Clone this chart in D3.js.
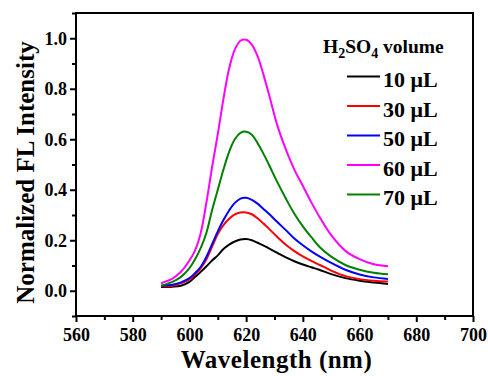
<!DOCTYPE html>
<html>
<head>
<meta charset="utf-8">
<script src="https://cdn.jsdelivr.net/npm/d3@7"></script>
<style>
  body { margin: 0; background: #fff; }
  svg text { font-family: "Liberation Serif", "Times New Roman", serif !important; font-weight: bold; }
</style>
</head>
<body>
<div id="chart"></div>
<script>
// wavelength grid (nm)
const wl = [590, 594, 597, 600, 602, 604, 606, 608, 610, 612, 614, 616, 618, 620, 622, 624, 626, 628, 631, 634, 637, 640, 643, 646, 650, 655, 660, 665, 670];

// normalized intensities
const v10 = [0.015, 0.016, 0.020, 0.035, 0.055, 0.075, 0.097, 0.120, 0.140, 0.165, 0.183, 0.195, 0.203, 0.205, 0.200, 0.190, 0.180, 0.168, 0.150, 0.132, 0.117, 0.104, 0.093, 0.082, 0.066, 0.050, 0.040, 0.033, 0.027];
const v30 = [0.018, 0.020, 0.030, 0.045, 0.065, 0.090, 0.125, 0.175, 0.225, 0.260, 0.285, 0.302, 0.310, 0.310, 0.303, 0.287, 0.267, 0.246, 0.213, 0.182, 0.157, 0.136, 0.118, 0.102, 0.080, 0.058, 0.046, 0.040, 0.037];
const v50 = [0.020, 0.024, 0.033, 0.050, 0.070, 0.095, 0.135, 0.185, 0.235, 0.280, 0.318, 0.348, 0.365, 0.368, 0.360, 0.345, 0.325, 0.305, 0.272, 0.240, 0.207, 0.180, 0.156, 0.135, 0.110, 0.083, 0.064, 0.053, 0.047];
const v60 = [0.030, 0.048, 0.075, 0.120, 0.160, 0.230, 0.350, 0.490, 0.620, 0.760, 0.880, 0.955, 0.990, 0.994, 0.975, 0.930, 0.860, 0.780, 0.655, 0.560, 0.480, 0.415, 0.350, 0.290, 0.220, 0.158, 0.125, 0.105, 0.097];
const v70 = [0.020, 0.035, 0.055, 0.090, 0.125, 0.170, 0.230, 0.320, 0.400, 0.480, 0.550, 0.600, 0.625, 0.630, 0.618, 0.585, 0.545, 0.500, 0.430, 0.365, 0.305, 0.255, 0.212, 0.172, 0.135, 0.102, 0.083, 0.071, 0.065];

const seriesNames = ['10 μL', '30 μL', '50 μL', '60 μL', '70 μL'];
const seriesColors = ['#000000', '#ff0000', '#0000ff', '#ff00ff', '#008000'];
const seriesValues = [v10, v30, v50, v60, v70];

const xTicks = [560, 580, 600, 620, 640, 660, 680, 700];
const xMinor = [570, 590, 610, 630, 650, 670, 690];
const yTicks = [0.0, 0.2, 0.4, 0.6, 0.8, 1.0];
const yMinor = [-0.1, 0.1, 0.3, 0.5, 0.7, 0.9, 1.1];

const width = 488, height = 376;
const margin = {top: 13, right: 15, bottom: 60, left: 76};
const w = width - margin.left - margin.right;
const h = height - margin.top - margin.bottom;

const svg = d3.select('#chart').append('svg')
    .attr('width', width)
    .attr('height', height);

const g = svg.append('g')
    .attr('transform', `translate(${margin.left},${margin.top})`);

const x = d3.scaleLinear().domain([560, 700]).range([0, w]);
const y = d3.scaleLinear().domain([-0.1, 1.1]).range([h, 0]);

// minor ticks
g.append('g')
    .attr('transform', `translate(0,${h})`)
    .call(d3.axisBottom(x).tickValues(xMinor).tickSize(4).tickFormat('').tickSizeOuter(0))
    .call(a => a.select('.domain').remove())
    .selectAll('line').attr('stroke-width', 2);
g.append('g')
    .call(d3.axisLeft(y).tickValues(yMinor).tickSize(4).tickFormat('').tickSizeOuter(0))
    .call(a => a.select('.domain').remove())
    .selectAll('line').attr('stroke-width', 2);

// major ticks
const xAxisG = g.append('g')
    .attr('transform', `translate(0,${h})`)
    .call(d3.axisBottom(x).tickValues(xTicks).tickSize(6).tickPadding(6).tickSizeOuter(0))
    .attr('font-family', null).attr('font-size', null);
xAxisG.select('.domain').remove();
xAxisG.selectAll('line').attr('stroke-width', 2);
xAxisG.selectAll('text').attr('fill', '#000')
    .style('font-size', '18px');

const yAxisG = g.append('g')
    .call(d3.axisLeft(y).tickValues(yTicks).tickSize(6).tickPadding(3).tickFormat(d3.format('.1f')).tickSizeOuter(0))
    .attr('font-family', null).attr('font-size', null);
yAxisG.select('.domain').remove();
yAxisG.selectAll('line').attr('stroke-width', 2);
yAxisG.selectAll('text').attr('fill', '#000')
    .style('font-size', '18px');

// frame
g.append('rect')
    .attr('width', w).attr('height', h)
    .attr('fill', 'none').attr('stroke', '#000').attr('stroke-width', 2);

// curves
const line = d3.line()
    .x((d, i) => x(wl[i]))
    .y(d => y(d))
    .curve(d3.curveCatmullRom);

seriesValues.forEach((vals, i) => {
    g.append('path')
        .datum(vals)
        .attr('fill', 'none')
        .attr('stroke', seriesColors[i])
        .attr('stroke-width', 2)
        .attr('d', line);
});

// legend
const leg = svg.append('g').attr('transform', 'translate(323,53)');
const title = leg.append('text').attr('font-size', 19.5).attr('fill', '#000');
title.append('tspan').text('H');
title.append('tspan').text('2').attr('font-size', 14).attr('dy', 5);
title.append('tspan').text('SO').attr('dy', -5);
title.append('tspan').text('4').attr('font-size', 14).attr('dy', 5);
title.append('tspan').text(' volume').attr('dy', -5);

seriesNames.forEach((name, i) => {
    const yy = 29 + i * 29.5;
    leg.append('line')
        .attr('x1', 24).attr('x2', 57)
        .attr('y1', yy - 5.5).attr('y2', yy - 5.5)
        .attr('stroke', seriesColors[i]).attr('stroke-width', 2);
    leg.append('text')
        .attr('x', 60).attr('y', yy + 5)
        .attr('font-size', 22).attr('fill', '#000')
        .text(name);
});

// axis titles
svg.append('text')
    .attr('x', margin.left + w / 2 + 2).attr('y', 368)
    .attr('text-anchor', 'middle')
    .attr('font-size', 25).attr('letter-spacing', 0.5)
    .text('Wavelength (nm)');

svg.append('text')
    .attr('transform', `translate(34,${margin.top + y(0.5) + 8}) rotate(-90)`)
    .attr('text-anchor', 'middle')
    .attr('font-size', 25)
    .text('Normalized FL Intensity');
</script>
</body>
</html>
